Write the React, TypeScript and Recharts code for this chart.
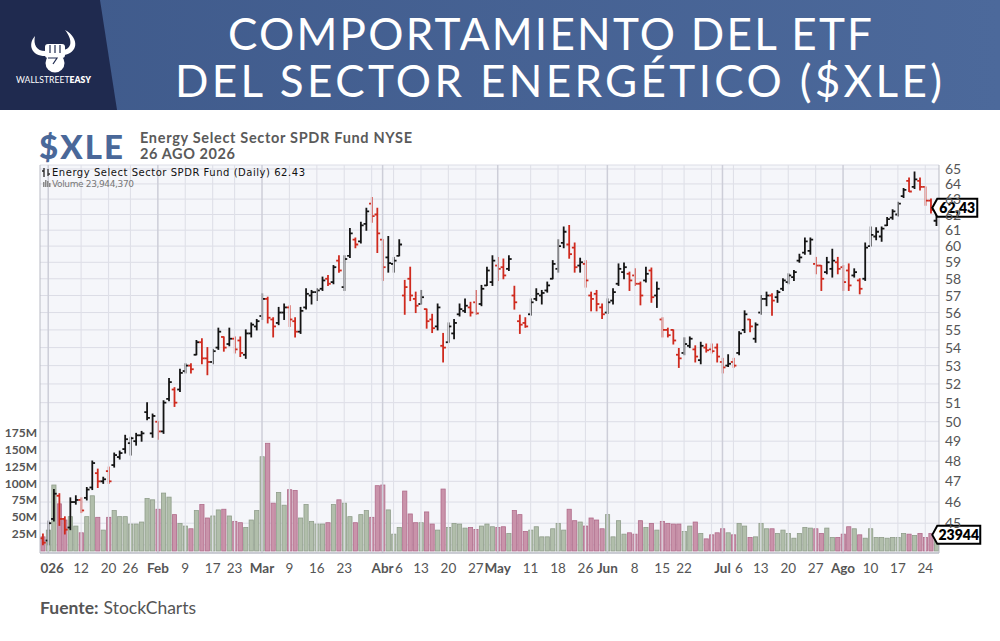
import React from "react";
import {
  ComposedChart,
  Bar,
  XAxis,
  YAxis,
  CartesianGrid,
  ReferenceLine,
  ReferenceDot,
} from "recharts";

const W = 1000;
const H = 641;
const PLOT_LEFT = 40;
const PLOT_TOP = 165;
const PLOT_RIGHT = 939;
const PLOT_BOTTOM = 553;
const FONT = "Lato, 'Open Sans', sans-serif";

// trading sessions shown on the chart (Dec 31 2025 -> Aug 26 2026)
const tradingDays: [string, number[]][] = [
  ["2025-12", [31]],
  ["2026-01", [2, 5, 6, 7, 8, 9, 12, 13, 14, 15, 16, 20, 21, 22, 23, 26, 27, 28, 29, 30]],
  ["2026-02", [2, 3, 4, 5, 6, 9, 10, 11, 12, 13, 17, 18, 19, 20, 23, 24, 25, 26, 27]],
  ["2026-03", [2, 3, 4, 5, 6, 9, 10, 11, 12, 13, 16, 17, 18, 19, 20, 23, 24, 25, 26, 27, 30, 31]],
  ["2026-04", [1, 2, 6, 7, 8, 9, 10, 13, 14, 15, 16, 17, 20, 21, 22, 23, 24, 27, 28, 29, 30]],
  ["2026-05", [1, 4, 5, 6, 7, 8, 11, 12, 13, 14, 15, 18, 19, 20, 21, 22, 26, 27, 28, 29]],
  ["2026-06", [1, 2, 3, 4, 5, 8, 9, 10, 11, 12, 15, 16, 17, 18, 22, 23, 24, 25, 26, 29, 30]],
  ["2026-07", [1, 2, 6, 7, 8, 9, 10, 13, 14, 15, 16, 17, 20, 21, 22, 23, 24, 27, 28, 29, 30, 31]],
  ["2026-08", [3, 4, 5, 6, 7, 10, 11, 12, 13, 14, 17, 18, 19, 20, 21, 24, 25, 26]],
];

// [open, high, low, close] per session
const ohlc: [number, number, number, number][] = [
  [44.3, 44.5, 44.0, 44.1],
  // ene
  [44.2, 45.1, 44.0, 45.0], [45.2, 46.6, 45.1, 46.4], [46.3, 46.4, 44.9, 45.2], [45.2, 45.3, 44.5, 44.7],
  [44.8, 46.2, 44.7, 46.0], [46.0, 46.3, 45.9, 46.1], [46.1, 46.2, 45.5, 45.6], [46.2, 46.7, 46.1, 46.6],
  [46.7, 48.0, 46.6, 47.9], [47.4, 47.6, 46.7, 47.0], [47.0, 47.2, 46.9, 47.1], [47.5, 47.7, 46.9, 47.0],
  [47.8, 48.4, 47.7, 48.3], [48.2, 48.5, 48.1, 48.4], [48.6, 49.3, 48.4, 49.1], [48.9, 49.2, 48.3, 49.15],
  [49.0, 49.4, 48.8, 49.3], [49.3, 49.5, 49.0, 49.4], [50.5, 51.0, 50.1, 50.2], [49.4, 50.4, 49.2, 50.3],
  // feb
  [50.0, 50.0, 49.1, 49.5], [49.5, 51.1, 49.4, 51.0], [51.2, 52.3, 51.1, 52.1], [51.7, 51.8, 50.8, 51.0],
  [51.7, 52.8, 51.6, 52.6], [52.7, 53.1, 52.6, 53.0], [53.0, 53.1, 52.6, 52.8], [53.6, 54.4, 53.6, 54.3],
  [54.3, 54.5, 53.1, 53.4], [53.4, 54.0, 52.5, 53.2], [53.2, 53.9, 53.1, 53.8], [54.0, 55.1, 53.9, 54.9],
  [54.6, 54.6, 53.8, 54.0], [54.2, 55.1, 54.1, 54.5], [54.5, 54.6, 53.7, 53.9], [54.4, 54.6, 53.5, 53.7],
  [53.6, 55.0, 53.4, 54.8], [54.8, 55.4, 54.6, 55.3], [55.2, 55.6, 55.0, 55.5],
  // mar
  [55.8, 57.1, 55.6, 56.8], [56.8, 56.9, 55.4, 55.7], [55.6, 55.7, 54.6, 55.2], [55.4, 56.3, 55.3, 56.0],
  [56.0, 56.5, 55.6, 56.3], [56.3, 56.4, 55.2, 55.6], [55.5, 55.7, 54.6, 54.9], [54.9, 56.3, 54.8, 56.1],
  [56.3, 57.4, 56.2, 57.1], [57.0, 57.3, 56.5, 57.2], [57.2, 57.4, 56.7, 57.3], [57.4, 58.1, 57.3, 57.9],
  [58.0, 58.2, 57.6, 57.7], [57.8, 58.8, 57.7, 58.7], [59.1, 59.4, 58.4, 58.5], [57.5, 59.4, 57.3, 59.2],
  [59.4, 61.1, 59.3, 60.8], [60.4, 60.5, 59.9, 60.1], [60.3, 61.5, 60.2, 61.3], [61.4, 62.4, 61.0, 62.2],
  [62.7, 63.1, 61.5, 61.9], [62.0, 62.4, 59.6, 60.8],
  // abr
  [60.4, 60.4, 57.9, 58.7], [59.3, 60.6, 58.4, 58.95], [58.9, 59.3, 58.4, 59.1], [59.4, 60.4, 59.4, 60.1],
  [57.0, 57.9, 55.9, 57.5], [58.0, 58.7, 56.7, 57.0], [56.8, 57.2, 56.0, 56.4], [56.5, 57.3, 56.5, 56.9],
  [56.2, 56.2, 55.1, 55.5], [55.6, 55.9, 54.85, 55.1], [55.2, 56.5, 55.0, 56.3], [54.1, 54.8, 53.2, 54.0],
  [54.3, 55.4, 54.3, 55.2], [54.8, 55.6, 54.5, 55.4], [55.9, 56.5, 55.8, 56.2], [56.1, 56.8, 56.0, 56.4],
  [56.3, 56.6, 55.8, 56.0], [56.6, 57.3, 55.9, 55.95], [56.5, 57.6, 56.4, 57.4], [57.6, 58.7, 57.6, 58.5],
  [57.8, 59.4, 57.6, 59.1],
  // may
  [58.8, 59.3, 57.9, 58.6], [58.7, 59.2, 58.0, 58.2], [58.6, 59.4, 58.5, 59.2], [57.0, 57.55, 56.2, 56.6],
  [55.5, 55.85, 54.8, 55.3], [55.4, 55.7, 55.15, 55.2], [55.9, 56.8, 55.85, 56.6], [56.8, 57.4, 56.7, 57.1],
  [57.0, 57.3, 56.5, 57.15], [57.3, 57.8, 57.2, 57.6], [58.0, 59.1, 58.0, 58.9], [58.6, 60.4, 58.4, 60.0],
  [60.2, 61.2, 59.9, 60.9], [60.1, 61.3, 59.25, 59.5], [59.9, 60.2, 58.4, 58.7], [58.8, 59.25, 58.4, 59.0],
  [58.9, 59.1, 57.5, 57.9], [57.0, 57.2, 56.1, 56.8], [57.1, 57.3, 56.1, 56.5], [56.3, 56.5, 55.65, 55.9],
  // jun
  [56.0, 56.8, 55.95, 56.6], [56.7, 57.4, 56.5, 57.2], [57.7, 58.9, 57.6, 58.6], [58.4, 58.95, 58.0, 58.7],
  [58.3, 58.4, 57.3, 57.9], [58.2, 58.6, 57.6, 57.7], [57.7, 57.8, 56.45, 57.0], [57.9, 58.7, 57.8, 58.3],
  [58.5, 58.65, 56.6, 56.9], [57.0, 57.8, 56.3, 57.4], [55.6, 55.7, 54.6, 55.0], [55.0, 55.1, 54.6, 54.7],
  [55.0, 55.0, 54.2, 54.4], [53.6, 53.95, 52.9, 53.4], [53.7, 54.55, 53.6, 54.2], [54.1, 54.6, 54.0, 54.5],
  [53.9, 54.1, 53.2, 53.5], [53.3, 54.3, 53.1, 54.1], [54.0, 54.2, 53.75, 53.85], [53.9, 54.2, 53.7, 53.8],
  [54.0, 54.2, 53.2, 53.5],
  // jul
  [53.2, 53.4, 52.6, 52.9], [53.0, 53.6, 52.95, 53.1], [53.2, 53.4, 52.9, 53.0], [53.7, 54.9, 53.6, 54.8],
  [55.0, 56.1, 54.85, 55.9], [55.6, 55.6, 54.9, 55.2], [54.5, 55.4, 54.3, 55.3], [56.0, 57.0, 55.9, 56.8],
  [56.8, 57.2, 56.4, 57.0], [57.0, 57.1, 55.85, 56.7], [56.9, 57.3, 56.6, 57.2], [57.4, 58.0, 57.3, 57.9],
  [57.8, 58.3, 57.7, 58.2], [58.1, 58.5, 57.9, 58.4], [59.1, 59.5, 59.0, 59.3], [59.6, 60.5, 59.5, 60.3],
  [59.7, 60.5, 59.5, 60.4], [58.9, 59.3, 58.3, 58.8], [58.8, 58.8, 57.3, 58.0], [58.4, 59.3, 58.3, 59.0],
  [58.6, 59.8, 58.1, 59.1], [59.0, 59.3, 58.3, 58.6],
  // ago
  [58.7, 58.8, 57.3, 57.8], [58.5, 58.9, 57.3, 57.6], [58.2, 58.6, 58.1, 58.4], [57.9, 58.0, 57.1, 57.4],
  [58.0, 60.2, 57.9, 59.9], [60.0, 61.2, 60.0, 60.7], [60.6, 61.15, 60.4, 60.9], [60.6, 61.2, 60.3, 61.1],
  [61.3, 61.8, 61.3, 61.7], [61.8, 62.3, 61.7, 62.2], [62.0, 62.8, 61.9, 62.7], [63.2, 63.7, 63.1, 63.6],
  [64.2, 64.4, 63.5, 63.5], [63.8, 64.8, 63.7, 64.3], [64.2, 64.4, 63.6, 63.8], [63.8, 63.8, 62.6, 62.9],
  [62.9, 63.0, 62.1, 62.3], [61.6, 62.5, 61.3, 62.43],
];

// volume, millions of shares
const volumeM: number[] = [
  21, 31, 98, 70, 46, 51, 37, 27, 51, 82,
  50, 31, 50, 60, 51, 51, 40, 40, 43, 78,
  76, 62, 86, 80, 54, 41, 37, 33, 60, 69,
  49, 52, 61, 62, 52, 44, 42, 35, 46, 60,
  140, 160, 71, 87, 68, 91, 90, 49, 69, 44,
  40, 40, 42, 69, 76, 71, 51, 42, 54, 60,
  50, 97, 98, 61, 25, 35, 89, 55, 42, 42,
  58, 40, 31, 92, 35, 41, 40, 34, 35, 32,
  37, 40, 36, 35, 36, 26, 60, 54, 29, 31,
  36, 21, 21, 33, 41, 31, 62, 45, 43, 37,
  49, 46, 33, 54, 21, 45, 25, 27, 25, 45,
  35, 41, 31, 44, 41, 40, 40, 29, 37, 43,
  26, 18, 24, 27, 33, 27, 24, 41, 37, 20,
  21, 41, 33, 33, 26, 31, 26, 19, 26, 35,
  34, 33, 26, 34, 20, 20, 25, 36, 33, 24,
  19, 33, 20, 20, 19, 20, 20, 26, 25, 23,
  26, 20, 26, 23.94437,
];

const tickLabels: [string, string][] = [
  ["2026-01-02", "2026"], ["2026-01-12", "12"], ["2026-01-20", "20"], ["2026-01-26", "26"],
  ["2026-02-02", "Feb"], ["2026-02-09", "9"], ["2026-02-17", "17"], ["2026-02-23", "23"],
  ["2026-03-02", "Mar"], ["2026-03-09", "9"], ["2026-03-16", "16"], ["2026-03-23", "23"],
  ["2026-04-01", "Abr"], ["2026-04-06", "6"], ["2026-04-13", "13"], ["2026-04-20", "20"], ["2026-04-27", "27"],
  ["2026-05-01", "May"], ["2026-05-11", "11"], ["2026-05-18", "18"], ["2026-05-26", "26"],
  ["2026-06-01", "Jun"], ["2026-06-08", "8"], ["2026-06-15", "15"], ["2026-06-22", "22"],
  ["2026-07-01", "Jul"], ["2026-07-06", "6"], ["2026-07-13", "13"], ["2026-07-20", "20"], ["2026-07-27", "27"],
  ["2026-08-03", "Ago"], ["2026-08-10", "10"], ["2026-08-17", "17"], ["2026-08-24", "24"],
];
const monthLabels = ["2026", "Feb", "Mar", "Abr", "May", "Jun", "Jul", "Ago"];
const unlabeledGrid = ["2026-03-30", "2026-06-29"];

const priceTicks = [44, 45, 46, 47, 48, 49, 50, 51, 52, 53, 54, 55, 56, 57, 58, 59, 60, 61, 62, 63, 64, 65];
const volTicks = [25, 50, 75, 100, 125, 150, 175];

const dates = tradingDays.flatMap(([m, days]) =>
  days.map((d) => `${m}-${String(d).padStart(2, "0")}`)
);

const rows = dates.map((d, i) => {
  const [o, h, l, c] = ohlc[i];
  const prev = i > 0 ? ohlc[i - 1][3] : o;
  return { d, o, h, l, c, v: volumeM[i], up: c >= prev };
});

const last = rows[rows.length - 1];
const labelByKey = new Map(tickLabels);
const dayIndex = new Map(dates.map((d, i) => [d, i] as [string, number]));
const tickAnchor = new Map(
  tickLabels.map(([k], j) => {
    const prev = tickLabels[j - 1];
    const tight =
      !!prev && monthLabels.includes(prev[1]) && (dayIndex.get(k) ?? 0) - (dayIndex.get(prev[0]) ?? 0) <= 3;
    return [k, tight ? "start" : "middle"] as [string, string];
  })
);

const OhlcBar = (p: any) => {
  const { x, y, width, height, payload } = p;
  if (!payload || height == null) return <g />;
  const cx = x + width / 2;
  const lh = Math.log(payload.h);
  const ll = Math.log(payload.l);
  const at = (v: number) => y + (height * (lh - Math.log(v))) / (lh - ll || 1);
  const col = payload.up ? "#141414" : "#cf2a1e";
  return (
    <g stroke={col} strokeWidth={1.8}>
      <line x1={cx} x2={cx} y1={y - 0.5} y2={y + height + 0.5} />
      <line x1={cx - 2.8} x2={cx} y1={at(payload.o)} y2={at(payload.o)} />
      <line x1={cx} x2={cx + 2.8} y1={at(payload.c)} y2={at(payload.c)} />
    </g>
  );
};

const VolBar = (p: any) => {
  const { x, y, width, height, payload } = p;
  if (!payload || !height) return <g />;
  return (
    <rect
      x={x + 0.4}
      y={y}
      width={Math.max(width - 0.8, 1)}
      height={height}
      fill={payload.up ? "#b1beab" : "#c993aa"}
      stroke={payload.up ? "#8f9d8a" : "#b06b8a"}
      strokeWidth={0.8}
    />
  );
};

const DateTick = (p: any) => {
  const { x, y, payload } = p;
  const key = payload.value;
  const label = labelByKey.get(key) ?? "";
  const bold = monthLabels.includes(label);
  const anchor = tickAnchor.get(key) ?? "middle";
  return (
    <g>
      <defs>
        <clipPath id={`xt-${key}`}>
          <rect x={PLOT_LEFT} y={y} width={W} height={30} />
        </clipPath>
      </defs>
      <text
        x={anchor === "start" ? x + 1.5 : x}
        y={y + 19.5}
        textAnchor={anchor}
        fontFamily={FONT}
        fontSize={13.5}
        fontWeight={bold ? 700 : 400}
        fill="#555"
        clipPath={`url(#xt-${key})`}
      >
        {label}
      </text>
    </g>
  );
};

const PriceTick = (p: any) => {
  const { x, y, payload } = p;
  if (payload.value < 45) return <g />;
  return (
    <text x={x} y={y + 5} fontFamily={FONT} fontSize={14} fill="#555">
      {payload.value}
    </text>
  );
};

const VolTick = (p: any) => {
  const { x, y, payload } = p;
  return (
    <text x={x} y={y + 4} textAnchor="end" fontFamily={FONT} fontWeight={700} fontSize={12} fill="#555">
      {payload.value}M
    </text>
  );
};

const Flag = ({ cx, cy, text, w }: { cx: number; cy: number; text: string; w: number }) => {
  const x0 = cx + 1;
  return (
    <g>
      <path
        d={`M${cx - 4},${cy} L${x0},${cy - 9} H${x0 + w} V${cy + 9} H${x0} Z`}
        fill="#fff"
        stroke="#000"
        strokeWidth={2}
      />
      <text x={x0 + w / 2} y={cy + 5} textAnchor="middle" fontFamily={FONT} fontWeight={800} fontSize={14} fill="#000">
        {text}
      </text>
    </g>
  );
};

export default function App() {
  const gridKeys = [...tickLabels.map(([k]) => k), ...unlabeledGrid];
  const monthKeys = new Set(tickLabels.filter(([, l]) => monthLabels.includes(l)).map(([k]) => k));
  const lastPriceText = last.c.toFixed(2).replace(".", ",");
  const lastVolK = Math.round(last.v * 1000);
  const lastVolFull = Math.round(last.v * 1e6).toLocaleString("en-US");

  return (
    <div style={{ position: "relative", width: W, height: H, background: "#fff", overflow: "hidden" }}>
      <style>{`body{margin:0}`}</style>
      <div style={{ position: "absolute", left: 0, top: 0 }}>
        <ComposedChart
          width={W}
          height={H}
          data={rows}
          margin={{ top: PLOT_TOP, right: 0, bottom: H - PLOT_BOTTOM - 30, left: 0 }}
          barCategoryGap="8%"
        >
          <XAxis
            xAxisId="px"
            dataKey="d"
            ticks={tickLabels.map(([k]) => k)}
            interval={0}
            height={30}
            tickSize={0}
            tickMargin={0}
            tickLine={false}
            axisLine={{ stroke: "#a9abb5" }}
            tick={DateTick}
          />
          <XAxis
            xAxisId="vx"
            dataKey="d"
            orientation="top"
            height={0}
            tick={false}
            tickLine={false}
            axisLine={{ stroke: "#b9bbc4" }}
          />
          <YAxis
            yAxisId="price"
            orientation="right"
            scale="log"
            domain={[43.63, 65.27]}
            allowDataOverflow
            ticks={priceTicks}
            interval={0}
            width={W - PLOT_RIGHT}
            tickSize={0}
            tickMargin={6}
            tickLine={false}
            axisLine={{ stroke: "#b9bbc4" }}
            tick={PriceTick}
          />
          <YAxis
            yAxisId="vol"
            orientation="left"
            domain={[-3, 573.4]}
            allowDataOverflow
            ticks={volTicks}
            interval={0}
            width={PLOT_LEFT}
            tickSize={0}
            tickMargin={3}
            tickLine={false}
            axisLine={{ stroke: "#b9bbc4" }}
            tick={VolTick}
          />
          <CartesianGrid
            xAxisId="px"
            yAxisId="price"
            vertical={false}
            fill="#f5f6fa"
            stroke="#dcdde6"
          />
          {gridKeys.map((k) => (
            <ReferenceLine
              key={k}
              x={k}
              xAxisId="px"
              yAxisId="price"
              stroke={monthKeys.has(k) ? "#cdced8" : "#dfe0e8"}
              strokeWidth={monthKeys.has(k) ? 1.5 : 1.1}
            />
          ))}
          <Bar xAxisId="vx" yAxisId="vol" dataKey="v" shape={VolBar} isAnimationActive={false} />
          <Bar
            xAxisId="px"
            yAxisId="price"
            dataKey={(r: any) => [r.l, r.h]}
            shape={OhlcBar}
            isAnimationActive={false}
          />
          <ReferenceDot
            x={last.d}
            y={last.c}
            xAxisId="px"
            yAxisId="price"
            r={3}
            shape={(p: any) => <Flag cx={p.cx} cy={p.cy} text={lastPriceText} w={40} />}
          />
          <ReferenceDot
            x={last.d}
            y={last.v}
            xAxisId="vx"
            yAxisId="vol"
            r={3}
            shape={(p: any) => <Flag cx={p.cx} cy={p.cy} text={String(lastVolK)} w={43} />}
          />
        </ComposedChart>
      </div>

      <svg
        width={W}
        height={H}
        style={{ position: "absolute", left: 0, top: 0, pointerEvents: "none" }}
      >
        <defs>
          <linearGradient id="banner" x1="0" x2="1" y1="0" y2="0">
            <stop offset="0" stopColor="#3f5a8b" />
            <stop offset="1" stopColor="#4c699b" />
          </linearGradient>
        </defs>
        {/* header */}
        <rect x={0} y={0} width={W} height={110} fill="url(#banner)" />
        <polygon points="0,0 100,0 117,110 0,110" fill="#1f2a4f" />
        <g fill="#fff">
          <path d="M35,36 C27,45 32,57 47,56 L47,51 C37,52 33,45 35,36 Z" />
          <path d="M65,30 C80,38 78,54 63,55 L63,50 C72,49 73,40 65,30 Z" />
          <rect x={45} y={44} width={20} height={14} rx={3} />
          <circle cx={55} cy={63} r={9.5} />
        </g>
        <g stroke="#1f2a4f" strokeWidth={1.2} fill="none">
          <line x1={50} y1={45} x2={50} y2={53} />
          <line x1={55} y1={45} x2={55} y2={53} />
          <line x1={60} y1={45} x2={60} y2={53} />
          <path d="M48,58 L57,58 L53,64" />
        </g>
        <text x={16} y={83} fill="#fff" fontFamily={FONT} fontSize={8.6} textLength={75}>
          WALLSTREET<tspan fontWeight={800}>EASY</tspan>
        </text>
        <text
          x={550}
          y={50}
          textAnchor="middle"
          fill="#fff"
          fontFamily={FONT}
          fontWeight={400}
          fontSize={44}
          textLength={644}
        >
          COMPORTAMIENTO DEL ETF
        </text>
        <text
          x={558.5}
          y={97}
          textAnchor="middle"
          fill="#fff"
          fontFamily={FONT}
          fontWeight={400}
          fontSize={44}
          textLength={767}
        >
          DEL SECTOR ENERGÉTICO ($XLE)
        </text>

        {/* ticker block */}
        <text x={39} y={159} fill="#4a6899" fontFamily={FONT} fontWeight={900} fontSize={33} textLength={84}>
          $XLE
        </text>
        <text x={140} y={143} fill="#5a5a5a" fontFamily={FONT} fontWeight={700} fontSize={14.5} textLength={272}>
          Energy Select Sector SPDR Fund NYSE
        </text>
        <text x={140} y={159} fill="#5a5a5a" fontFamily={FONT} fontWeight={700} fontSize={14.5} textLength={95}>
          26 AGO 2026
        </text>

        {/* in-plot legend */}
        <g strokeWidth={1.3}>
          <line x1={44} y1={168} x2={44} y2={177} stroke="#222" />
          <line x1={42} y1={171} x2={44} y2={171} stroke="#222" />
          <line x1={48} y1={169} x2={48} y2={176} stroke="#333" />
          <line x1={48} y1={174} x2={50} y2={174} stroke="#333" />
        </g>
        <text x={52} y={176} fill="#111" fontFamily="'DejaVu Sans', sans-serif" fontSize={10} textLength={253}>
          Energy Select Sector SPDR Fund (Daily) 62.43
        </text>
        <g fill="#888">
          <rect x={43} y={182} width={1.5} height={5} />
          <rect x={45} y={180} width={1.5} height={7} />
          <rect x={47} y={181} width={1.5} height={6} />
          <rect x={49} y={183} width={1.5} height={4} />
        </g>
        <text x={52} y={186.5} fill="#777" fontFamily="'DejaVu Sans', sans-serif" fontSize={9} textLength={82}>
          Volume {lastVolFull}
        </text>

        {/* footer */}
        <text x={40} y={614} fill="#555" fontFamily={FONT} fontSize={17.5}>
          <tspan fontWeight={700}>Fuente:</tspan>
          <tspan dx={5}>StockCharts</tspan>
        </text>
      </svg>
    </div>
  );
}
